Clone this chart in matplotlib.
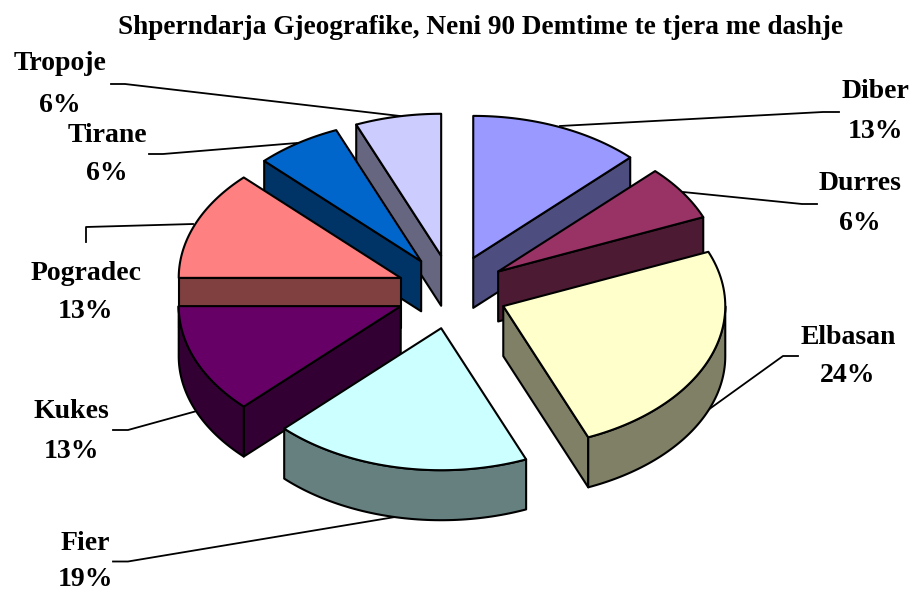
import matplotlib
matplotlib.use('Agg')
import matplotlib.pyplot as plt
import numpy as np
from matplotlib.patches import Polygon

# Chart data, shares taken from the wedge angles, printed labels as shown
cities = ['Diber', 'Durres', 'Elbasan', 'Fier', 'Kukes', 'Pogradec', 'Tirane', 'Tropoje']
shares = [12.5, 6.25, 25, 18.75, 12.5, 12.5, 6.25, 6.25]
percent_labels = ['13%', '6%', '24%', '19%', '13%', '13%', '6%', '6%']
top_colors = ['#9999FF', '#993366', '#FFFFCC', '#CCFFFF', '#660066', '#FF8080', '#0066CC', '#CCCCFF']
side_colors = ['#4D4D80', '#4D1A33', '#808066', '#668080', '#330033', '#804040', '#003366', '#666680']
title = 'Shperndarja Gjeografike, Neni 90 Demtime te tjera me dashje'

# Pie geometry in pixels
CX, CY = 452, 292
RX, RY = 222, 142
EXPLODE_X, EXPLODE_Y = 0.25, 0.26
DEPTH = 50
LW = 1.5

# x of label, y of name, y of percent
label_pos = [(876, 90, 130), (860, 182, 222), (848, 335, 374), (85, 541, 577),
             (71, 409, 449), (86, 271, 310), (107, 133, 172), (60, 61, 104)]
leaders = [[(560, 126), (823, 112), (839, 112)],
           [(683, 192), (802, 204), (817, 204)],
           [(708, 410), (783, 356), (798, 356)],
           [(395, 517), (128, 561.5), (113, 561.5)],
           [(195, 411.5), (128, 430), (113, 430)],
           [(193, 224), (86, 227), (86, 242)],
           [(297, 143), (163, 154), (149, 154)],
           [(400, 116), (125, 84), (111, 84)]]


def ellipse_pts(angles, ax0, ay0):
    # angles clockwise from the top, in radians
    return np.column_stack([ax0 + RX * np.sin(angles), ay0 - RY * np.cos(angles)])


def draw_slice(ax, start, end, top_color, side_color, z):
    mid = (start + end) / 2
    x0 = CX + EXPLODE_X * RX * np.sin(mid)
    y0 = CY - EXPLODE_Y * RY * np.cos(mid)
    apex = np.array([x0, y0])
    down = np.array([0, DEPTH])
    arc = ellipse_pts(np.linspace(start, end, 60), x0, y0)

    # only the cut faces turned to the viewer, then the outer wall, then the top
    if np.sin(start) < -1e-6:
        face = [apex, arc[0], arc[0] + down, apex + down]
        ax.add_patch(Polygon(face, fc=side_color, ec='black', lw=LW, zorder=z, joinstyle='round'))
    if np.sin(end) > 1e-6:
        face = [apex, arc[-1], arc[-1] + down, apex + down]
        ax.add_patch(Polygon(face, fc=side_color, ec='black', lw=LW, zorder=z, joinstyle='round'))
    front = np.linspace(max(start, np.pi / 2), min(end, 3 * np.pi / 2), 60)
    if front[-1] > front[0]:
        rim = ellipse_pts(front, x0, y0)
        wall = np.vstack([rim, rim[::-1] + down])
        ax.add_patch(Polygon(wall, fc=side_color, ec='black', lw=LW, zorder=z, joinstyle='round'))
    ax.add_patch(Polygon(np.vstack([apex, arc]), fc=top_color, ec='black', lw=LW, zorder=z, joinstyle='round'))


plt.rcParams['font.family'] = ['Liberation Serif']
fig = plt.figure(figsize=(9.14, 5.9), dpi=100)
ax = fig.add_axes([0, 0, 1, 1])
ax.set_xlim(0, 914)
ax.set_ylim(590, 0)
ax.axis('off')

edges = np.concatenate([[0], np.cumsum(shares)]) / np.sum(shares) * 2 * np.pi
mids = (edges[:-1] + edges[1:]) / 2
# back slices get painted first
order = np.argsort(-np.cos(mids))
for z, i in enumerate(order):
    draw_slice(ax, edges[i], edges[i + 1], top_colors[i], side_colors[i], 5 + z)

for line in leaders:
    xs, ys = zip(*line)
    ax.plot(xs, ys, color='black', lw=1.3, zorder=2)

for i, city in enumerate(cities):
    x, y_name, y_pct = label_pos[i]
    ax.text(x, y_name + 2, city, ha='center', va='center', fontsize=20, fontweight='bold')
    ax.text(x, y_pct + 2, percent_labels[i], ha='center', va='center', fontsize=20, fontweight='bold')

ax.text(480.5, 27, title, ha='center', va='center', fontsize=19.6, fontweight='bold')

fig.savefig('out.png', dpi=100)
